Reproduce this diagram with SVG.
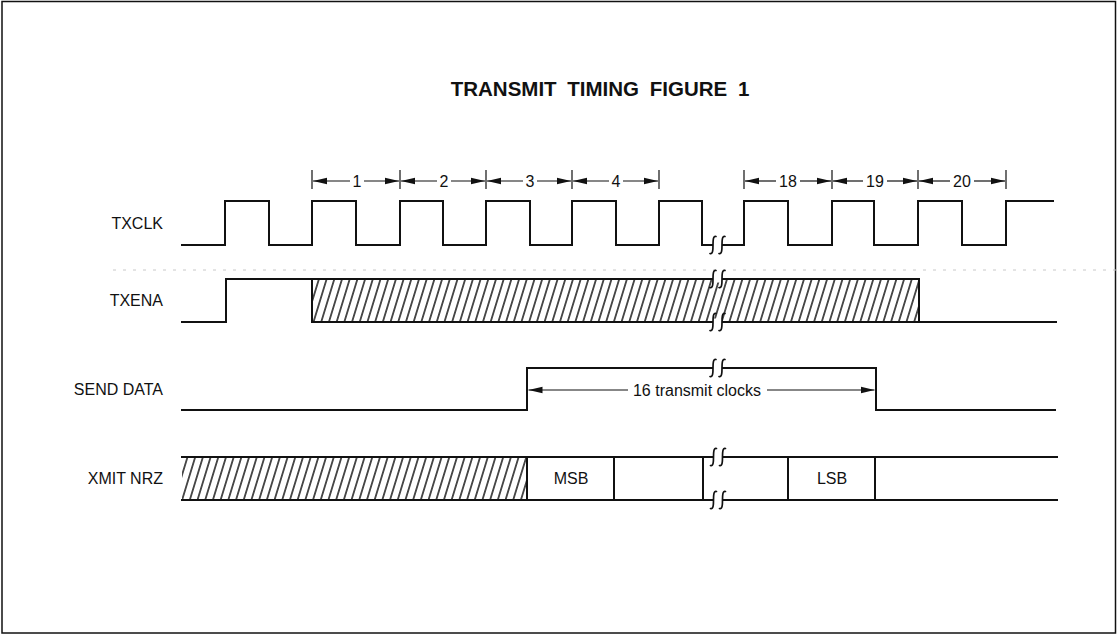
<svg xmlns="http://www.w3.org/2000/svg" xmlns:xlink="http://www.w3.org/1999/xlink" width="1118" height="635" viewBox="0 0 1118 635">
<style>
.sig{fill:none;stroke:#111;stroke-width:2;stroke-linejoin:miter;stroke-linecap:square}
.dim{fill:none;stroke:#111;stroke-width:1.2}
.lbl{font-family:"Liberation Sans",Arial,Helvetica,sans-serif;font-size:16px;fill:#111}
.title{font-family:"Liberation Sans",Arial,Helvetica,sans-serif;font-size:20.5px;font-weight:bold;fill:#111;word-spacing:5px}
.sq{fill:none;stroke:#111;stroke-width:1.7;stroke-linecap:round}
.scan{stroke:#c8c8c8;stroke-width:1;stroke-dasharray:3 7}
</style>
<defs>
<pattern id="hatch" patternUnits="userSpaceOnUse" width="7.7" height="60" patternTransform="skewX(-17)">
<line x1="3.85" y1="-5" x2="3.85" y2="65" stroke="#111" stroke-width="1.5"/>
</pattern>
<marker id="ah" markerUnits="userSpaceOnUse" markerWidth="15" markerHeight="8" refX="14" refY="4" orient="auto-start-reverse">
<path d="M0,0.7 L14,4 L0,7.3 z" fill="#111"/>
</marker>
<g id="brk">
<rect x="-4.5" y="-3.5" width="9" height="7" fill="#fff"/>
<path class="sq" d="M-1.5,-8.5 C-4.5,-9.5 -4.5,-4 -4.5,0 C-4.5,4 -4.5,9.5 -7.5,8.5"/>
<path class="sq" d="M7.5,-8.5 C4.5,-9.5 4.5,-4 4.5,0 C4.5,4 4.5,9.5 1.5,8.5"/>
</g>
</defs>
<rect width="1118" height="635" fill="#fff"/>
<rect x="2" y="1.5" width="1113.5" height="631.5" fill="none" stroke="#111" stroke-width="1.5"/>
<line class="scan" x1="113" y1="270" x2="1118" y2="270"/>
<g id="title">
<text class="title" x="600" y="96" text-anchor="middle">TRANSMIT TIMING FIGURE 1</text>
</g>
<g id="txclk">
<text class="lbl" x="163" y="229" text-anchor="end">TXCLK</text>
<path class="sig" d="M182 245 H225 V201 H269 V245 H312 V201 H356 V245 H400 V201 H443 V245 H486 V201 H530 V245 H572 V201 H616 V245 H659 V201 H702 V245 H744 V201 H788 V245 H832 V201 H874 V245 H918 V201 H962 V245 H1006 V201 H1053"/>
<use xlink:href="#brk" href="#brk" transform="translate(717.5,245)"/>
</g>
<g id="txena">
<text class="lbl" x="163" y="306" text-anchor="end">TXENA</text>
<rect x="312" y="279" width="607" height="43" fill="url(#hatch)"/>
<path class="sig" d="M182 322 H226 V279 H919 V322"/>
<path class="sig" d="M312 279 V322 H1056"/>
<use xlink:href="#brk" href="#brk" transform="translate(717.5,279)"/>
<use xlink:href="#brk" href="#brk" transform="translate(717.5,322)"/>
</g>
<g id="send-data">
<text class="lbl" x="163" y="395" text-anchor="end">SEND DATA</text>
<path class="sig" d="M182 410 H527 V368 H876 V410 H1055"/>
<use xlink:href="#brk" href="#brk" transform="translate(717.5,368)"/>
<text class="lbl" x="697" y="396" text-anchor="middle">16 transmit clocks</text>
</g>
<g id="xmit-nrz">
<text class="lbl" x="163" y="484" text-anchor="end">XMIT NRZ</text>
<rect x="182" y="457" width="345" height="43" fill="url(#hatch)"/>
<path class="sig" d="M182 457 H1057 M182 500 H1057 M527 457 V500 M614 457 V500 M703 457 V500 M788 457 V500 M875 457 V500"/>
<use xlink:href="#brk" href="#brk" transform="translate(718,457)"/>
<use xlink:href="#brk" href="#brk" transform="translate(718,500)"/>
<text class="lbl" x="571" y="484" text-anchor="middle">MSB</text>
<text class="lbl" x="832" y="484" text-anchor="middle">LSB</text>
</g>
<g id="connectors">
<path class="dim" d="M312 170 V189 M400 170 V189 M486 170 V189 M572 170 V189 M659 170 V189 M744 170 V189 M832 170 V189 M918 170 V189 M1006 170 V189"/>
<line class="dim" x1="350" y1="181" x2="313" y2="181" marker-end="url(#ah)"/>
<line class="dim" x1="364" y1="181" x2="399" y2="181" marker-end="url(#ah)"/>
<line class="dim" x1="437" y1="181" x2="401" y2="181" marker-end="url(#ah)"/>
<line class="dim" x1="451" y1="181" x2="485" y2="181" marker-end="url(#ah)"/>
<line class="dim" x1="523" y1="181" x2="487" y2="181" marker-end="url(#ah)"/>
<line class="dim" x1="537" y1="181" x2="571" y2="181" marker-end="url(#ah)"/>
<line class="dim" x1="609" y1="181" x2="573" y2="181" marker-end="url(#ah)"/>
<line class="dim" x1="623" y1="181" x2="658" y2="181" marker-end="url(#ah)"/>
<line class="dim" x1="776" y1="181" x2="745" y2="181" marker-end="url(#ah)"/>
<line class="dim" x1="800" y1="181" x2="831" y2="181" marker-end="url(#ah)"/>
<line class="dim" x1="863" y1="181" x2="833" y2="181" marker-end="url(#ah)"/>
<line class="dim" x1="887" y1="181" x2="917" y2="181" marker-end="url(#ah)"/>
<line class="dim" x1="950" y1="181" x2="919" y2="181" marker-end="url(#ah)"/>
<line class="dim" x1="974" y1="181" x2="1005" y2="181" marker-end="url(#ah)"/>
<line class="dim" x1="628" y1="390" x2="528.5" y2="390" marker-end="url(#ah)"/>
<line class="dim" x1="767" y1="390" x2="874.5" y2="390" marker-end="url(#ah)"/>
</g>
<g id="dim-labels">
<text class="lbl" x="357" y="187" text-anchor="middle">1</text>
<text class="lbl" x="444" y="187" text-anchor="middle">2</text>
<text class="lbl" x="530" y="187" text-anchor="middle">3</text>
<text class="lbl" x="616" y="187" text-anchor="middle">4</text>
<text class="lbl" x="788" y="187" text-anchor="middle">18</text>
<text class="lbl" x="875" y="187" text-anchor="middle">19</text>
<text class="lbl" x="962" y="187" text-anchor="middle">20</text>
</g>
</svg>
